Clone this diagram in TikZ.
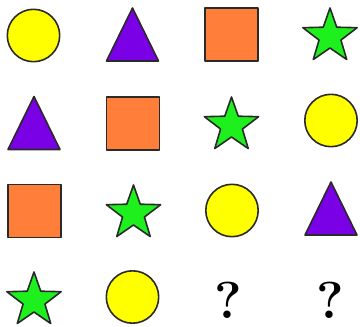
\documentclass[tikz,border=0pt]{standalone}
\usetikzlibrary{shapes.geometric}
\definecolor{cyel}{HTML}{FFFF00}
\definecolor{cpur}{HTML}{7A00E6}
\definecolor{cora}{HTML}{FF7F3A}
\definecolor{cgrn}{HTML}{1EF01E}
\definecolor{cout}{HTML}{2A2A2A}
\tikzset{
  shp/.style={draw=cout, line width=1.6pt, line join=round},
  pics/circ/.style={code={\draw[shp, fill=cyel] (0,0) circle[radius=26.2];}},
  pics/sq/.style={code={\draw[shp, fill=cora] (-26.5,-26.5) rectangle (26.5,26.5);}},
  pics/tri/.style={code={\draw[shp, fill=cpur] (0,-26.5) -- (26,26.5) -- (-26,26.5) -- cycle;}},
  pics/st/.style={code={\draw[shp, fill=cgrn]
     (-90:28.5) -- (-54:11.5) -- (-18:28.5) -- (18:11.5) -- (54:28.5) -- (90:11.5)
     -- (126:28.5) -- (162:11.5) -- (198:28.5) -- (234:11.5) -- cycle;}},
  qm/.style={font=\fontsize{52}{52}\selectfont\bfseries, inner sep=0pt}
}
\begin{document}
\begin{tikzpicture}[x=1pt,y=-1pt]
\useasboundingbox (0,0) rectangle (360,327);
% row 1
\pic at (33.5,35.5) {circ};
\pic at (132.5,34.5) {tri};
\pic at (231.5,34.5) {sq};
\pic at (330,36.5) {st};
% row 2
\pic at (34,123) {tri};
\pic at (133,123.5) {sq};
\pic at (231.5,125.5) {st};
\pic at (331,120.5) {circ};
% row 3
\pic at (34.5,211) {sq};
\pic at (133.5,213.5) {st};
\pic at (232,210.5) {circ};
\pic at (331,208.5) {tri};
% row 4
\pic at (34,300.5) {st};
\pic at (132.5,297) {circ};
\node[qm] (q1) at (228.5,300) {?};
\node[qm] (q2) at (330,300) {?};
\end{tikzpicture}
\end{document}
